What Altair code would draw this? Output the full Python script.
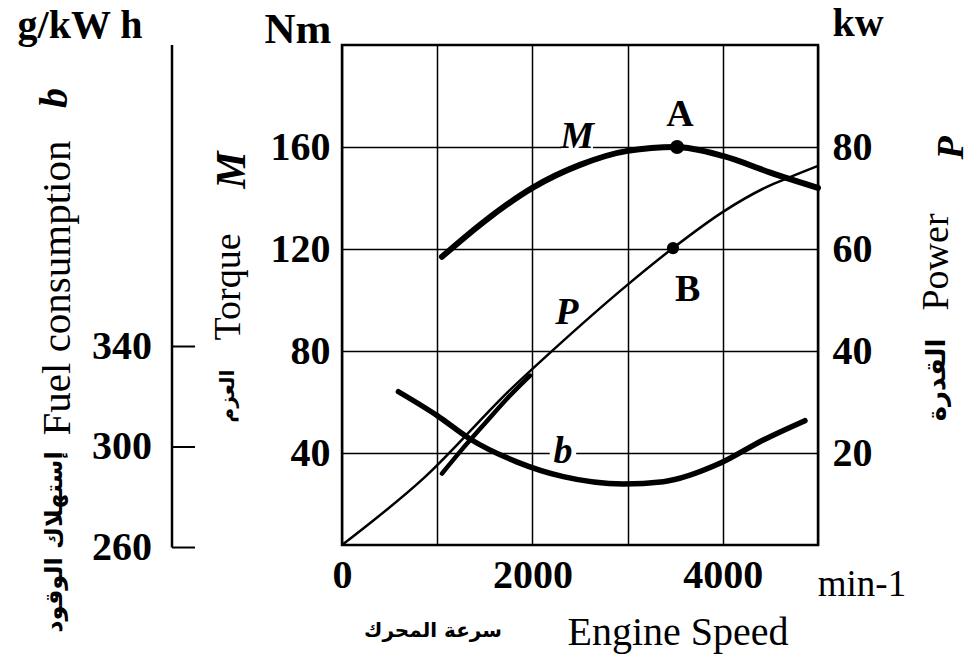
import altair as alt
import pandas as pd

# ---------------- data ----------------
rpm_torque = [1050, 1500, 2000, 2500, 3000, 3500, 4000, 4500, 5000]
torque_nm = [117, 131, 144, 153, 158.5, 160, 156.5, 150, 144]

rpm_power = [0, 870, 1765, 2216, 2973, 3477, 4002, 4464, 4706, 5000]
power_kw = [2, 15.3, 32.4, 40.2, 52.6, 60.2, 67.3, 72.2, 74.1, 76.3]

rpm_power_full = [1050, 1250, 1500, 1750, 1975]
power_full_kw = [16.0, 20.5, 25.8, 31.0, 35.2]

rpm_fuel = [593, 1000, 1345, 1835, 2325, 2955, 3375, 3970, 4425, 4863]
fuel_gkwh = [322, 312.5, 303.2, 294.1, 288.2, 285.3, 286.2, 293.5, 302.8, 310.5]

point_a_rpm, point_a_nm = [3520], [160]
point_b_rpm, point_b_kw = [3477], [60.2]

x_ticks = [0, 1000, 2000, 3000, 4000, 5000]
torque_ticks = [40, 80, 120, 160]
power_ticks = [20, 40, 60, 80]
fuel_ticks = [260, 300, 340]
fuel_axis_ends = [260, 460]

# curve name labels and point letters (data coordinates)
label_m = {"rpm": [2470], "v": [164], "t": ["M"]}
label_a = {"rpm": [3550], "v": [172.5], "t": ["A"]}
label_p = {"rpm": [2363], "v": [47.5], "t": ["P"]}
label_b_pt = {"rpm": [3630], "v": [52], "t": ["B"]}
label_b = {"rpm": [2321], "v": [298], "t": ["b"]}

SERIF = "Liberation Serif"
ARABIC = "DejaVu Sans"

# ---------------- scales ----------------
XS = alt.Scale(domain=[0, 5000], nice=False, zero=False)
YT = alt.Scale(domain=[4, 200], nice=False, zero=False)
YP = alt.Scale(domain=[2, 100], nice=False, zero=False)
YF = alt.Scale(domain=[261, 460], nice=False, zero=False)

x_axis = alt.Axis(values=x_ticks, grid=True, gridColor="black", gridWidth=1.5,
                  gridOpacity=1, ticks=False, domain=False, format="d",
                  labelExpr="datum.value % 2000 == 0 ? datum.label : ''",
                  labelFont=SERIF, labelFontSize=40, labelFontWeight="bold",
                  labelColor="black", labelPadding=10, labelFlush=False,
                  labelOverlap=False, title=None)
torque_axis = alt.Axis(values=torque_ticks, orient="left", grid=True, gridColor="black",
                       gridWidth=1.5, gridOpacity=1, ticks=False, domain=False,
                       labelFont=SERIF, labelFontSize=40, labelFontWeight="bold",
                       labelColor="black", labelPadding=12, title=None)
power_axis = alt.Axis(values=power_ticks, orient="right", grid=False, ticks=False,
                      domain=False, labelFont=SERIF, labelFontSize=40,
                      labelFontWeight="bold", labelColor="black", labelPadding=14,
                      title=None)

df_m = pd.DataFrame({"rpm": rpm_torque, "v": torque_nm})
df_p = pd.DataFrame({"rpm": rpm_power, "v": power_kw})
df_pf = pd.DataFrame({"rpm": rpm_power_full, "v": power_full_kw})
df_b = pd.DataFrame({"rpm": rpm_fuel, "v": fuel_gkwh})
df_a = pd.DataFrame({"rpm": point_a_rpm, "v": point_a_nm})
df_bp = pd.DataFrame({"rpm": point_b_rpm, "v": point_b_kw})

X_ENC = alt.X("rpm:Q", scale=XS, axis=x_axis)


def xy(ys, yaxis=None):
    return dict(x=X_ENC, y=alt.Y("v:Q", scale=ys, axis=yaxis))


def label(d, ys, italic):
    return alt.Chart(pd.DataFrame(d)).mark_text(
        font=SERIF, fontSize=38, fontWeight="bold",
        fontStyle="italic" if italic else "normal", color="black",
        baseline="middle").encode(text="t:N", **xy(ys))


# ---------------- torque ----------------
m_line = alt.Chart(df_m).mark_line(color="black", strokeWidth=6, interpolate="monotone",
                                   strokeCap="round").encode(**xy(YT, torque_axis))
m_bg = alt.Chart(pd.DataFrame(label_m)).mark_square(size=1000, color="white", opacity=1,
                                                    filled=True).encode(**xy(YT))
a_pt = alt.Chart(df_a).mark_circle(size=200, color="black", opacity=1).encode(**xy(YT))

# ---------------- power ----------------
p_line = alt.Chart(df_p).mark_line(color="black", strokeWidth=2.5,
                                   interpolate="monotone").encode(**xy(YP, power_axis))
pf_line = alt.Chart(df_pf).mark_line(color="black", strokeWidth=4.5, strokeCap="round",
                                     interpolate="monotone").encode(**xy(YP))
b_pt = alt.Chart(df_bp).mark_circle(size=150, color="black", opacity=1).encode(**xy(YP))

# ---------------- fuel (own axis drawn as marks) ----------------
df_fend = pd.DataFrame({"lo": [fuel_axis_ends[0]], "hi": [fuel_axis_ends[1]]})
df_ft = pd.DataFrame({"v": fuel_ticks})
f_axis_line = alt.Chart(df_fend).mark_rule(color="black", strokeWidth=2.5).encode(
    x=alt.value(-170), y=alt.Y("lo:Q", scale=YF, axis=None), y2="hi:Q")
f_ticks = alt.Chart(df_ft).mark_rule(color="black", strokeWidth=2).encode(
    x=alt.value(-170), x2=alt.value(-147), y=alt.Y("v:Q", scale=YF, axis=None))
f_tlabels = alt.Chart(df_ft).mark_text(font=SERIF, fontSize=40, fontWeight="bold",
                                       color="black", align="right",
                                       baseline="middle").encode(
    x=alt.value(-190), y=alt.Y("v:Q", scale=YF, axis=None), text=alt.Text("v:Q"))
b_bg = alt.Chart(pd.DataFrame(label_b)).mark_square(size=700, color="white", opacity=1,
                                                    filled=True).encode(**xy(YF))
b_line = alt.Chart(df_b).mark_line(color="black", strokeWidth=5.5, strokeCap="round",
                                   interpolate="monotone").encode(**xy(YF))

# ---------------- titles / units (annotation text) ----------------
one = pd.DataFrame({"d": [0]})


def txt(s, x, y, size, font=SERIF, weight="normal", style="normal", angle=0):
    return alt.Chart(one).mark_text(text=s, font=font, fontSize=size, fontWeight=weight,
                                    fontStyle=style, angle=angle, color="black",
                                    align="center", baseline="middle").encode(
        x=alt.value(x), y=alt.value(y))


titles = [
    txt("g/kW h", -262, -19, 40, weight="bold"),
    txt("Nm", -44, -15, 43, weight="bold"),
    txt("kw", 516, -21, 40, weight="bold"),
    txt("Fuel consumption", -284, 243, 41, angle=270),
    txt("b", -287, 53, 40, weight="bold", style="italic", angle=270),
    txt("إستهلاك الوقود", -287, 497, 24, font=ARABIC, weight="bold", angle=270),
    txt("Torque", -113, 242, 38, angle=270),
    txt("M", -110, 125, 42, weight="bold", style="italic", angle=270),
    txt("العزم", -114, 351, 20, font=ARABIC, weight="bold", angle=270),
    txt("Power", 595, 217, 38, angle=270),
    txt("P", 610, 103, 38, weight="bold", style="italic", angle=270),
    txt("القدرة", 595, 335, 26, font=ARABIC, weight="bold", angle=270),
    txt("Engine Speed", 336, 588, 40),
    txt("سرعة المحرك", 91, 586, 20, font=ARABIC, weight="bold"),
    txt("min-1", 520, 540, 37),
]

layers = [m_line, p_line, m_bg, b_bg, f_axis_line, f_ticks, f_tlabels,
          b_line, pf_line, a_pt, b_pt,
          label(label_m, YT, True), label(label_a, YT, False),
          label(label_p, YP, True), label(label_b_pt, YP, False),
          label(label_b, YF, True)] + titles

chart = alt.layer(*layers).resolve_scale(
    y="independent"
).properties(
    width=476, height=500,
    autosize=alt.AutoSizeParams(type="none"),
    padding={"left": 342, "top": 45, "right": 153, "bottom": 117},
    background="white",
).configure_view(stroke="black", strokeWidth=2.5)

chart.save("out.html", embed_options={"renderer": "svg", "actions": False})
